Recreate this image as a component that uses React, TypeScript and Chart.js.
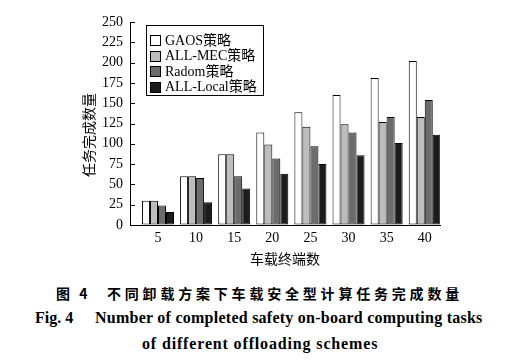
import React, { useEffect, useRef } from 'react';
import { Chart, registerables } from 'chart.js';

Chart.register(...registerables);

const terminals = [5, 10, 15, 20, 25, 30, 35, 40];
const gaos = [30, 60, 87, 114, 139, 160, 181, 202];
const allMec = [30, 60, 87, 99, 121, 124, 127, 133];
const radom = [24, 58, 60, 82, 97, 114, 133, 154];
const allLocal = [16, 28, 45, 63, 75, 86, 101, 111];
const yTicks = [0, 25, 50, 75, 100, 125, 150, 175, 200, 225, 250];
const seriesNames = ['GAOS策略', 'ALL-MEC策略', 'Radom策略', 'ALL-Local策略'];
const seriesColors = ['#ffffff', '#bdbdbd', '#6c6c6c', '#1c1c1c'];
const xTitle = '车载终端数';
const yTitle = '任务完成数量';

const SERIF = "'Liberation Serif', 'Noto Sans CJK SC', serif";
const CJK = "'Noto Sans CJK SC', sans-serif";

const decoPlugin = {
  id: 'deco',
  afterDraw(chart: any) {
    const ctx = chart.ctx as CanvasRenderingContext2D;
    const ys = chart.scales.y;
    const area = chart.chartArea;
    ctx.save();
    // inward ticks on y axis
    ctx.strokeStyle = '#000';
    ctx.lineWidth = 1;
    ys.ticks.forEach((_t: any, i: number) => {
      const py = Math.round(ys.getPixelForTick(i)) + 0.5;
      ctx.beginPath();
      ctx.moveTo(area.left, py);
      ctx.lineTo(area.left + 5, py);
      ctx.stroke();
    });
    // y title
    ctx.fillStyle = '#000';
    ctx.font = `14px ${CJK}`;
    ctx.textAlign = 'center';
    ctx.textBaseline = 'middle';
    ctx.save();
    ctx.translate(89, 135);
    ctx.rotate(-Math.PI / 2);
    ctx.fillText(yTitle, 0, 0);
    ctx.restore();
    // legend
    const lx = area.left + 16;
    const ly = area.top + 3;
    const lw = 117;
    const lh = 70;
    ctx.strokeStyle = '#000';
    ctx.lineWidth = 1;
    ctx.strokeRect(Math.round(lx) + 0.5, Math.round(ly) + 0.5, lw, lh);
    ctx.font = `14px ${SERIF}`;
    ctx.textAlign = 'left';
    chart.data.datasets.forEach((ds: any, i: number) => {
      const cy = ly + 15 + i * 15.6;
      const sx = Math.round(lx + 4) + 0.5;
      const sy = Math.round(cy - 5) + 0.5;
      ctx.fillStyle = ds.backgroundColor;
      ctx.fillRect(sx, sy, 10, 10);
      ctx.strokeStyle = '#000';
      ctx.strokeRect(sx, sy, 10, 10);
      ctx.fillStyle = '#000';
      ctx.fillText(ds.label, lx + 19, cy + 1);
    });
    ctx.restore();
  },
};

function BarChart() {
  const ref = useRef<HTMLCanvasElement | null>(null);
  useEffect(() => {
    if (!ref.current) return;
    const seriesValues = [gaos, allMec, radom, allLocal];
    const chart = new Chart(ref.current, {
      type: 'bar',
      data: {
        datasets: seriesValues.map((vals, i) => ({
          label: seriesNames[i],
          data: terminals.map((t, j) => ({ x: t, y: vals[j] })),
          backgroundColor: seriesColors[i],
          borderColor: '#000',
          borderWidth: 1,
          borderSkipped: false,
          categoryPercentage: 0.84,
          barPercentage: 1.0,
        })),
      },
      options: {
        animation: false,
        responsive: false,
        maintainAspectRatio: false,
        events: [],
        layout: { padding: { left: 0, right: 69, top: 22, bottom: 0 } },
        plugins: {
          legend: { display: false },
          tooltip: { enabled: false },
        },
        scales: {
          x: {
            type: 'linear',
            offset: false,
            min: 1.33,
            max: 42,
            afterBuildTicks: (axis: any) => {
              axis.ticks = terminals.map((v) => ({ value: v }));
            },
            afterFit: (scale: any) => {
              scale.height = 45;
            },
            grid: { display: true, drawOnChartArea: false, drawTicks: false, offset: false },
            border: { display: true, color: '#000', width: 1 },
            ticks: {
              color: '#000',
              font: { family: SERIF, size: 14 },
              padding: 5,
              maxRotation: 0,
              autoSkip: false,
            },
            title: {
              display: true,
              text: xTitle,
              color: '#000',
              font: { family: CJK, size: 14 },
              padding: { top: 0, bottom: 3 },
            },
          },
          y: {
            min: 0,
            max: 250,
            afterBuildTicks: (axis: any) => {
              axis.ticks = yTicks.map((v) => ({ value: v }));
            },
            afterFit: (scale: any) => {
              scale.width = 130;
            },
            grid: { display: true, drawOnChartArea: false, drawTicks: false },
            border: { display: true, color: '#000', width: 1 },
            ticks: {
              color: '#000',
              font: { family: SERIF, size: 14 },
              padding: 7,
            },
          },
        },
      },
      plugins: [decoPlugin],
    } as any);
    return () => chart.destroy();
  }, []);
  return <canvas ref={ref} width={509} height={270} style={{ display: 'block', width: 509, height: 270 }} />;
}

export default function App() {
  return (
    <div style={{ position: 'absolute', left: 0, top: 0, width: 509, height: 362, background: '#fff', overflow: 'hidden' }}>
      <BarChart />
      <div style={{ position: 'absolute', left: 56, top: 284, fontFamily: CJK, fontWeight: 700, fontSize: 14, lineHeight: '18px', whiteSpace: 'nowrap', color: '#000' }}>
        <span style={{ letterSpacing: 3 }}>图 4</span>
      </div>
      <div style={{ position: 'absolute', left: 107, top: 284, fontFamily: CJK, fontWeight: 700, fontSize: 14, lineHeight: '18px', letterSpacing: 3.8, whiteSpace: 'nowrap', color: '#000' }}>
        不同卸载方案下车载安全型计算任务完成数量
      </div>
      <div style={{ position: 'absolute', left: 35, top: 309, fontFamily: SERIF, fontWeight: 700, fontSize: 16, lineHeight: '18px', whiteSpace: 'nowrap', color: '#000' }}>
        Fig. 4
      </div>
      <div style={{ position: 'absolute', left: 95, top: 309, fontFamily: SERIF, fontWeight: 700, fontSize: 16, letterSpacing: 0.25, lineHeight: '18px', whiteSpace: 'nowrap', color: '#000' }}>
        Number of completed safety on-board computing tasks
      </div>
      <div style={{ position: 'absolute', left: 142, top: 335, fontFamily: SERIF, fontWeight: 700, fontSize: 16, letterSpacing: 0.85, lineHeight: '18px', whiteSpace: 'nowrap', color: '#000' }}>
        of different offloading schemes
      </div>
    </div>
  );
}
